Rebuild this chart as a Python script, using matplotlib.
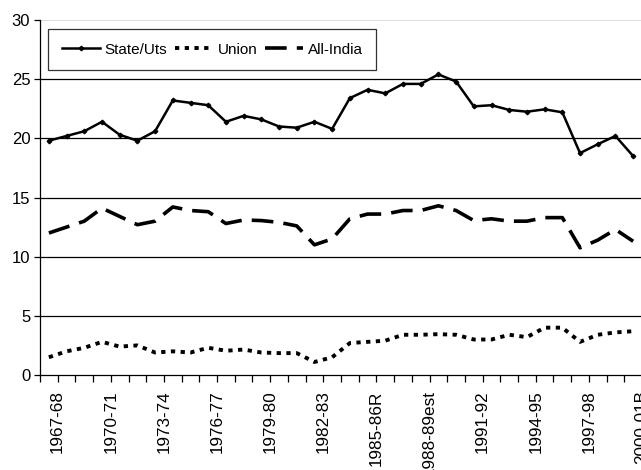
import matplotlib.pyplot as plt
import numpy as np

plt.rcParams['font.family'] = ['Liberation Sans', 'DejaVu Sans']

# years (only every third one is labelled on the axis)
years = ['1967-68', '1968-69', '1969-70', '1970-71', '1971-72', '1972-73',
         '1973-74', '1974-75', '1975-76', '1976-77', '1977-78', '1978-79',
         '1979-80', '1980-81', '1981-82', '1982-83', '1983-84', '1984-85',
         '1985-86R', '1986-87', '1987-88', '1988-89est', '1989-90', '1990-91',
         '1991-92', '1992-93', '1993-94', '1994-95', '1995-96', '1996-97',
         '1997-98', '1998-99', '1999-00', '2000-01B']

states = [19.8, 20.2, 20.6, 21.4, 20.3, 19.8, 20.6, 23.2, 23.0, 22.8, 21.4, 21.9,
          21.6, 21.0, 20.9, 21.4, 20.8, 23.4, 24.1, 23.8, 24.6, 24.6, 25.4, 24.8,
          22.7, 22.8, 22.4, 22.25, 22.45, 22.2, 18.75, 19.5, 20.2, 18.5]

union = [1.5, 2.0, 2.3, 2.8, 2.4, 2.5, 1.9, 2.0, 1.9, 2.3, 2.05, 2.15,
         1.9, 1.85, 1.85, 1.1, 1.5, 2.7, 2.8, 2.9, 3.4, 3.4, 3.45, 3.4,
         3.0, 3.0, 3.4, 3.2, 4.0, 4.0, 2.8, 3.4, 3.6, 3.7]

all_india = [12.0, 12.5, 13.0, 14.1, 13.4, 12.7, 13.0, 14.2, 13.9, 13.8, 12.8, 13.1,
             13.05, 12.9, 12.6, 11.0, 11.5, 13.2, 13.6, 13.6, 13.9, 13.9, 14.3, 13.9,
             13.05, 13.2, 13.0, 13.0, 13.3, 13.3, 10.75, 11.4, 12.3, 11.3]

x = np.arange(len(years))

fig = plt.figure(figsize=(6.41, 4.70), dpi=100)
ax = fig.add_axes([40 / 641, 1 - 375 / 470, 602 / 641, 355 / 470])

# grid lines
for v in [5, 10, 15, 20, 25]:
    ax.axhline(v, color='black', lw=0.9, zorder=1)
ax.axhline(30, color='#d8d8d8', lw=1.2, zorder=1)

ax.plot(x, states, color='black', lw=1.8, marker='D', markersize=2.3,
        label='State/Uts', zorder=3)
ax.plot(x, union, color='black', lw=2.8, linestyle=(0, (1.1, 1.4)),
        dash_capstyle='butt', label='Union', zorder=3)
ax.plot(x, all_india, color='black', lw=2.6, linestyle=(0, (6, 2.8)),
        dash_capstyle='butt', label='All-India', zorder=3)

ax.set_xlim(-0.5, len(years) - 0.5)
ax.set_ylim(0, 30)
ax.set_yticks(range(0, 31, 5))

# tick marks sit between categories, labels on every third boundary
bounds = np.arange(-0.5, len(years), 1)
labels = []
for k in range(len(bounds)):
    i = k - 1
    labels.append(years[i] if i >= 0 and i % 3 == 0 else '')
ax.set_xticks(bounds)
ax.set_xticklabels(labels, rotation=90, fontsize=12.3)
ax.tick_params(axis='x', direction='out', length=5, width=0.9, pad=6)
ax.tick_params(axis='y', direction='out', length=4, width=0.9, labelsize=12, pad=3)

for s in ['top', 'right']:
    ax.spines[s].set_visible(False)
ax.spines['left'].set_linewidth(0.9)
ax.spines['bottom'].set_linewidth(0.9)

leg = ax.legend(loc='upper left', bbox_to_anchor=(0.013, 0.975), ncol=3,
                fontsize=11, frameon=True, fancybox=False, borderaxespad=0,
                handlelength=2.5, handletextpad=0.3, columnspacing=0.5,
                borderpad=0.9)
leg.get_frame().set_edgecolor('black')
leg.get_frame().set_linewidth(0.9)

fig.savefig('out.png', dpi=100)
